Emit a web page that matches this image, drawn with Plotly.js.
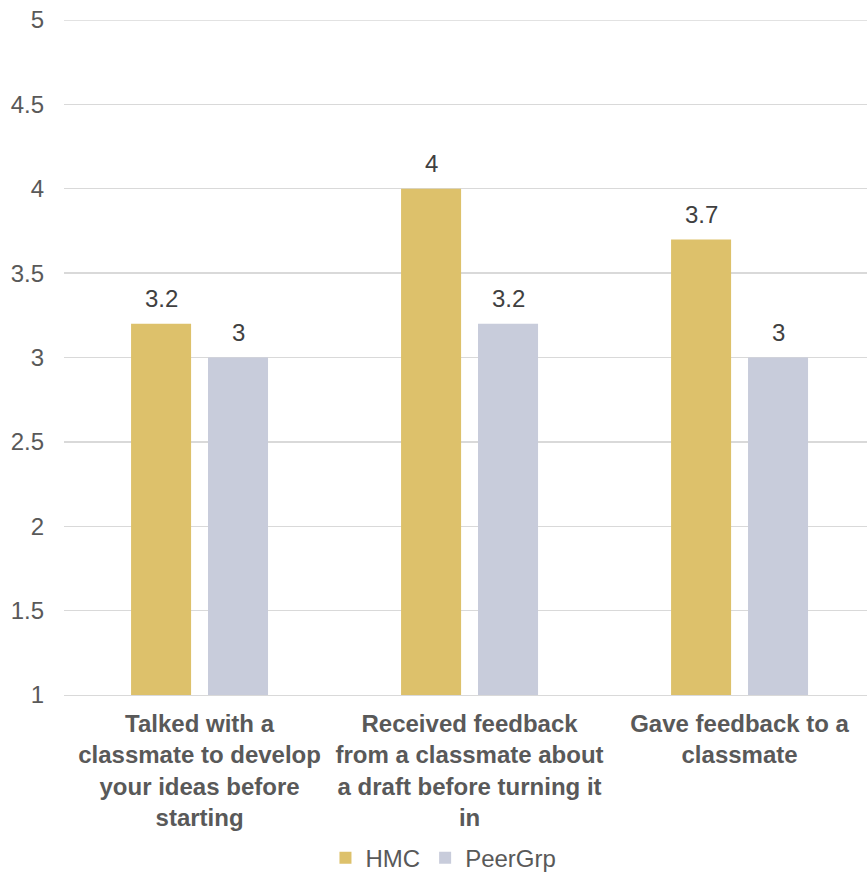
<!DOCTYPE html>
<html>
<head>
<meta charset="utf-8">
<script src="https://cdn.plot.ly/plotly-3.0.1.min.js"></script>
<style>
  html, body { margin: 0; padding: 0; background: #ffffff; }
  #chart { width: 867px; height: 872px; }
</style>
</head>
<body>
<div id="chart"></div>
<script>
// Peer-collaboration survey items (mean response, 1–5 scale)
const categories = [
  "Talked with a<br>classmate to develop<br>your ideas before<br>starting",
  "Received feedback<br>from a classmate about<br>a draft before turning it<br>in",
  "Gave feedback to a<br>classmate"
];
const hmcValues = [3.2, 4, 3.7];
const peerValues = [3, 3.2, 3];
const seriesNames = ["HMC", "PeerGrp"];
const yTickVals = [1, 1.5, 2, 2.5, 3, 3.5, 4, 4.5, 5];
const yTickText = ["1", "1.5", "2", "2.5", "3", "3.5", "4", "4.5", "5"];

const FONT = "Liberation Sans, Arial, sans-serif";
const TEXT_GREY = "#595959";
const LABEL_GREY = "#404040";
const GRID = "#D9D9D9";
const BAR_COLORS = ["#DDC16B", "#C8CCDB"];
const FS = 24;

function barTrace(name, values, color) {
  return {
    type: "bar",
    name: name,
    x: categories,
    y: values,
    marker: { color: color },
    hoverinfo: "x+y+name"
  };
}

const traces = [
  barTrace(seriesNames[0], hmcValues, BAR_COLORS[0]),
  barTrace(seriesNames[1], peerValues, BAR_COLORS[1])
];

// value labels sit above each bar; the horizontal shift puts them over
// the left (HMC) or right (PeerGrp) bar of each group
const BAR_OFFSET_PX = 38.5;
const annotations = [];
[hmcValues, peerValues].forEach((vals, s) => {
  vals.forEach((v, i) => {
    annotations.push({
      x: categories[i],
      y: v,
      xref: "x",
      yref: "y",
      text: String(v),
      showarrow: false,
      xanchor: "center",
      yanchor: "middle",
      xshift: s === 0 ? -BAR_OFFSET_PX : BAR_OFFSET_PX,
      yshift: 25,
      font: { family: FONT, size: FS, color: LABEL_GREY }
    });
  });
});

const layout = {
  width: 867,
  height: 872,
  margin: { l: 64, r: 0, t: 20, b: 177 },
  paper_bgcolor: "#ffffff",
  plot_bgcolor: "#ffffff",
  font: { family: FONT, size: FS, color: TEXT_GREY },
  barmode: "group",
  bargap: 0.43,
  bargroupgap: 0.22,
  showlegend: true,
  legend: {
    orientation: "h",
    xref: "container",
    yref: "container",
    x: 0.5115,
    xanchor: "center",
    y: 0.016,
    yanchor: "middle",
    font: { family: FONT, size: FS, color: TEXT_GREY },
    itemwidth: 30,
    tracegroupgap: 0
  },
  annotations: annotations,
  shapes: [
    // top gridline at the axis maximum
    {
      type: "line",
      xref: "paper",
      yref: "y",
      x0: 0,
      x1: 1,
      y0: yTickVals[yTickVals.length - 1],
      y1: yTickVals[yTickVals.length - 1],
      line: { color: GRID, width: 1.3 },
      layer: "below"
    }
  ],
  xaxis: {
    type: "category",
    range: [-0.502, 2.472],
    showgrid: false,
    showline: true,
    linecolor: GRID,
    linewidth: 1.3,
    ticks: "",
    ticklabelstandoff: 7,
    tickfont: { family: FONT, size: FS, color: TEXT_GREY, weight: "bold" },
    fixedrange: true
  },
  yaxis: {
    range: [1, 5],
    tickmode: "array",
    tickvals: yTickVals,
    ticktext: yTickText,
    showgrid: true,
    gridcolor: GRID,
    gridwidth: 1.3,
    zeroline: false,
    showline: false,
    ticks: "",
    ticklabelstandoff: 19,
    tickfont: { family: FONT, size: FS, color: TEXT_GREY },
    fixedrange: true
  }
};

Plotly.newPlot("chart", traces, layout, { displayModeBar: false, staticPlot: true });
</script>
</body>
</html>
